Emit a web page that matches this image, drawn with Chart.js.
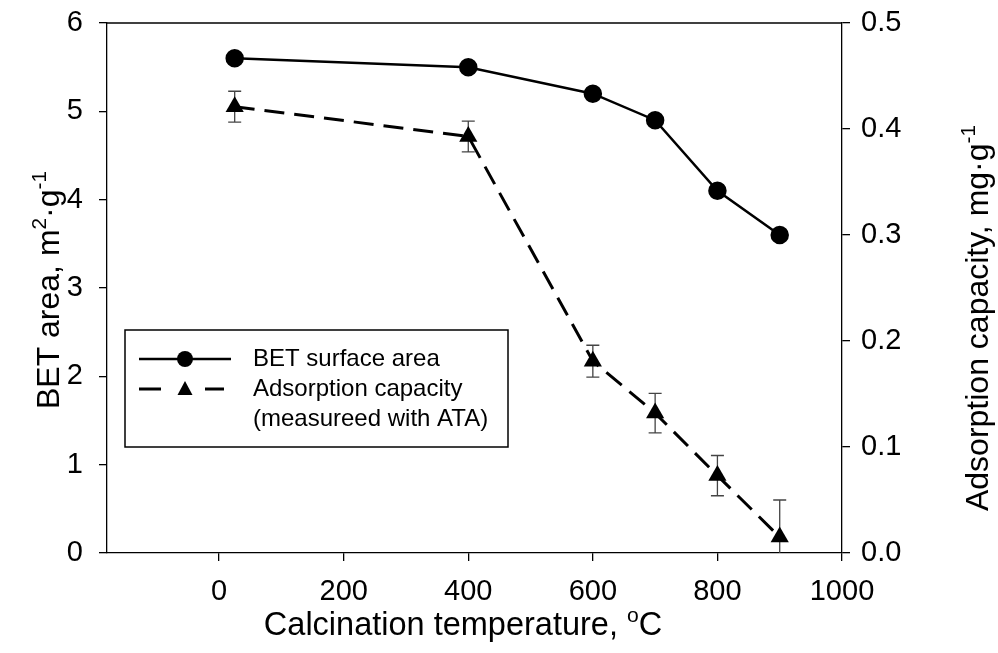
<!DOCTYPE html>
<html>
<head>
<meta charset="utf-8">
<script src="https://cdn.jsdelivr.net/npm/chart.js"></script>
<style>
  body { margin: 0; background: #fff; }
  #wrap { width: 998px; height: 653px; }
</style>
</head>
<body>
<div id="wrap"><canvas id="chart" width="998" height="653"></canvas></div>
<script>
// values
const temperature = [25, 400, 600, 700, 800, 900];
const betArea = [5.6, 5.5, 5.2, 4.9, 4.1, 3.6];
const adsCapacity = [0.421, 0.393, 0.181, 0.132, 0.073, 0.015];
const adsError = [0.0146, 0.0145, 0.015, 0.0186, 0.019, 0.035];

const xTicks = [0, 200, 400, 600, 800, 1000];
const leftTicks = [0, 1, 2, 3, 4, 5, 6];
const rightTicks = [0, 0.1, 0.2, 0.3, 0.4, 0.5];

const FONT = "'Liberation Sans', Arial, sans-serif";
Chart.defaults.font.family = FONT;
Chart.defaults.color = '#000';

// text with superscripts, parts = [[text, isSup], ...]
function drawRich(ctx, parts, x, y, rot, size, align) {
  ctx.save();
  ctx.translate(x, y);
  ctx.rotate(rot);
  ctx.fillStyle = '#000';
  ctx.textBaseline = 'alphabetic';
  ctx.textAlign = 'left';
  let total = 0;
  parts.forEach(p => {
    ctx.font = (p[1] ? size * 0.65 : size) + 'px ' + FONT;
    total += ctx.measureText(p[0]).width;
  });
  let cx = align === 'center' ? -total / 2 : 0;
  parts.forEach(p => {
    ctx.font = (p[1] ? size * 0.65 : size) + 'px ' + FONT;
    ctx.fillText(p[0], cx, p[1] ? -size * 0.4 : 0);
    cx += ctx.measureText(p[0]).width;
  });
  ctx.restore();
}

const errorBars = {
  id: 'errorBars',
  beforeDatasetsDraw(chart) {
    const ctx = chart.ctx;
    const xs = chart.scales.x, ys = chart.scales.y1;
    const area = chart.chartArea;
    ctx.save();
    ctx.beginPath();
    ctx.rect(area.left, area.top - 2, area.right - area.left, area.bottom - area.top + 2);
    ctx.clip();
    ctx.strokeStyle = '#444';
    ctx.lineWidth = 1.3;
    for (let i = 0; i < temperature.length; i++) {
      let px = xs.getPixelForValue(temperature[i]);
      let top = ys.getPixelForValue(adsCapacity[i] + adsError[i]);
      let bot = ys.getPixelForValue(adsCapacity[i] - adsError[i]);
      ctx.beginPath();
      ctx.moveTo(px, top); ctx.lineTo(px, bot);
      ctx.moveTo(px - 6.5, top); ctx.lineTo(px + 6.5, top);
      ctx.moveTo(px - 6.5, bot); ctx.lineTo(px + 6.5, bot);
      ctx.stroke();
    }
    ctx.restore();
  }
};

const decorations = {
  id: 'decorations',
  afterDraw(chart) {
    const ctx = chart.ctx;
    const area = chart.chartArea;

    // top frame line
    ctx.save();
    ctx.strokeStyle = '#000';
    ctx.lineWidth = 1.3;
    ctx.beginPath();
    ctx.moveTo(area.left, area.top);
    ctx.lineTo(area.right, area.top);
    ctx.stroke();

    // legend box
    ctx.lineWidth = 1.5;
    ctx.strokeRect(125, 330, 383, 117);

    ctx.lineWidth = 2.5;
    ctx.beginPath();
    ctx.moveTo(139, 359); ctx.lineTo(231, 359);
    ctx.stroke();
    ctx.beginPath();
    ctx.arc(185, 359, 8, 0, Math.PI * 2);
    ctx.fill();

    ctx.lineWidth = 3;
    ctx.beginPath();
    ctx.moveTo(139, 389); ctx.lineTo(161, 389);
    ctx.moveTo(205, 389); ctx.lineTo(224, 389);
    ctx.stroke();
    ctx.beginPath();
    ctx.moveTo(185, 381); ctx.lineTo(192.5, 395); ctx.lineTo(177.5, 395);
    ctx.closePath();
    ctx.fill();

    ctx.font = '24px ' + FONT;
    ctx.textBaseline = 'middle';
    ctx.fillText('BET surface area', 253, 359);
    ctx.fillText('Adsorption capacity', 253, 389);
    ctx.fillText('(measureed with ATA)', 253, 419);
    ctx.restore();

    // axis titles
    drawRich(ctx, [['Calcination temperature, ', false], ['o', true], ['C', false]],
      463, 635, 0, 32.5, 'center');
    drawRich(ctx, [['BET area, m', false], ['2', true], ['\u00b7', false], ['g', false], ['-1', true]],
      59, 290, -Math.PI / 2, 32, 'center');
    drawRich(ctx, [['Adsorption capacity, mg', false], ['\u00b7', false], ['g', false], ['-1', true]],
      988, 318, -Math.PI / 2, 32, 'center');
  }
};

let tickStyle = { drawOnChartArea: false, tickLength: 8, color: '#000', lineWidth: 1.3 };
let borderStyle = { color: '#000', width: 1.3 };

function noPad(s) {
  s.paddingTop = 0;
  s.paddingBottom = 0;
}

new Chart(document.getElementById('chart'), {
  type: 'line',
  data: {
    datasets: [
      {
        label: 'BET surface area',
        data: temperature.map((t, i) => ({ x: t, y: betArea[i] })),
        yAxisID: 'y',
        borderColor: '#000',
        backgroundColor: '#000',
        borderWidth: 2.5,
        pointStyle: 'circle',
        pointRadius: 8,
        pointBackgroundColor: '#000',
        pointBorderColor: '#000',
        tension: 0
      },
      {
        label: 'Adsorption capacity (measureed with ATA)',
        data: temperature.map((t, i) => ({ x: t, y: adsCapacity[i] })),
        yAxisID: 'y1',
        borderColor: '#000',
        backgroundColor: '#000',
        borderWidth: 3,
        borderDash: [20, 10],
        pointStyle: 'triangle',
        pointRadius: 10.5,
        pointBackgroundColor: '#000',
        pointBorderColor: '#000',
        pointBorderWidth: 0,
        tension: 0
      }
    ]
  },
  options: {
    responsive: false,
    animation: false,
    layout: { padding: { top: 23, left: 0, right: 0, bottom: 0 } },
    plugins: { legend: { display: false }, tooltip: { enabled: false } },
    scales: {
      x: {
        type: 'linear',
        min: -180,
        max: 1000,
        afterBuildTicks: s => { s.ticks = xTicks.map(v => ({ value: v })); },
        afterFit: s => { s.height = 100; },
        grid: tickStyle,
        border: borderStyle,
        ticks: { color: '#000', font: { size: 29 }, padding: 14, maxRotation: 0, autoSkip: false,
          callback: v => String(v) }
      },
      y: {
        position: 'left',
        min: 0,
        max: 6,
        afterBuildTicks: s => { s.ticks = leftTicks.map(v => ({ value: v })); },
        afterFit: s => { s.width = 107; noPad(s); },
        grid: tickStyle,
        border: borderStyle,
        ticks: { color: '#000', font: { size: 29 }, padding: 16 }
      },
      y1: {
        position: 'right',
        min: 0,
        max: 0.5,
        afterBuildTicks: s => { s.ticks = rightTicks.map(v => ({ value: v })); },
        afterFit: s => { s.width = 156; noPad(s); },
        grid: tickStyle,
        border: borderStyle,
        ticks: { color: '#000', font: { size: 29 }, padding: 11, callback: v => v.toFixed(1) }
      }
    }
  },
  plugins: [errorBars, decorations]
});
</script>
</body>
</html>
